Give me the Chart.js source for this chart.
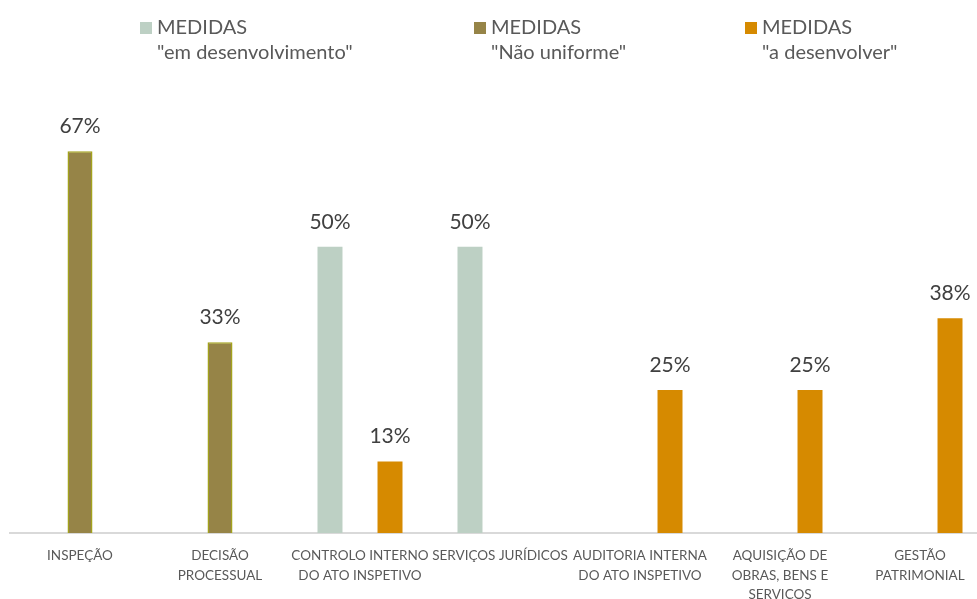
<!DOCTYPE html>
<html>
<head>
<meta charset="utf-8">
<script src="https://cdn.jsdelivr.net/npm/chart.js@4.4.1/dist/chart.umd.min.js"></script>
<style>
  html, body { margin: 0; padding: 0; background: #fff; overflow: hidden; width: 977px; height: 599px; }
  #wrap { position: absolute; left: 0; top: 0; width: 992px; height: 599px; }
  .leg { position: absolute; font-family: Lato, "Open Sans", sans-serif; font-size: 20px; color: #595959; line-height: 25px; white-space: nowrap; }
  .leg .box { position: absolute; left: -17px; top: 8px; width: 12px; height: 12px; }
</style>
</head>
<body>
<div id="wrap"><canvas id="myChart" width="992" height="599"></canvas></div>
<div id="legend"></div>
<script>
// categories (multi-line labels as in the original)
const categories = [
  ['INSPEÇÃO'],
  ['DECISÃO', 'PROCESSUAL'],
  ['CONTROLO INTERNO', 'DO ATO INSPETIVO'],
  ['SERVIÇOS JURÍDICOS'],
  ['AUDITORIA INTERNA', 'DO ATO INSPETIVO'],
  ['AQUISIÇÃO DE', 'OBRAS, BENS E', 'SERVICOS'],
  ['GESTÃO', 'PATRIMONIAL']
];
const seriesNames = [['MEDIDAS', '"em desenvolvimento"'], ['MEDIDAS', '"Não uniforme"'], ['MEDIDAS', '"a desenvolver"']];
const emDesenvolvimento = [null, null, 0.5, 0.5, null, null, null];
const naoUniforme = [0.667, 0.333, null, null, null, null, null];
const aDesenvolver = [null, null, 0.125, null, 0.25, 0.25, 0.375];
const colors = ['#bdd0c4', '#968447', '#d68a00'];
const borders = ['#bdd0c4', '#a3a21c', '#d68a00'];

// legend in html so it can have two lines
const legendX = [157, 491, 762];
const legendEl = document.getElementById('legend');
seriesNames.forEach(function (name, i) {
  const d = document.createElement('div');
  d.className = 'leg';
  d.style.left = legendX[i] + 'px';
  d.style.top = '14px';
  d.innerHTML = '<span class="box" style="background:' + colors[i] + '"></span>' + name[0] + '<br>' + name[1];
  legendEl.appendChild(d);
});

// draws the % labels over the bars
const valueLabels = {
  id: 'valueLabels',
  afterDatasetsDraw(chart) {
    const ctx = chart.ctx;
    ctx.save();
    ctx.font = '21px Lato, "Open Sans", sans-serif';
    ctx.fillStyle = '#404040';
    ctx.textAlign = 'center';
    ctx.textBaseline = 'alphabetic';
    chart.data.datasets.forEach(function (ds, i) {
      chart.getDatasetMeta(i).data.forEach(function (bar, j) {
        const v = ds.data[j];
        if (v === null) return;
        ctx.fillText(Math.round(v * 100) + '%', bar.x, bar.y - 18);
      });
    });
    ctx.restore();
  }
};

const ctx = document.getElementById('myChart').getContext('2d');
new Chart(ctx, {
  type: 'bar',
  data: {
    labels: categories,
    datasets: [
      { label: 'em desenvolvimento', data: emDesenvolvimento, backgroundColor: colors[0], borderColor: borders[0], borderWidth: 0 },
      { label: 'Não uniforme', data: naoUniforme, backgroundColor: colors[1], borderColor: borders[1], borderWidth: 1.5 },
      { label: 'a desenvolver', data: aDesenvolver, backgroundColor: colors[2], borderColor: borders[2], borderWidth: 0 }
    ]
  },
  options: {
    responsive: false,
    animation: false,
    layout: { padding: { left: 10, right: 2, top: 75, bottom: 0 } },
    plugins: {
      legend: { display: false },
      tooltip: { enabled: false }
    },
    datasets: {
      bar: { barPercentage: 0.833, categoryPercentage: 0.643 }
    },
    scales: {
      x: {
        grid: { display: false, drawTicks: false },
        border: { display: true, color: '#d9d9d9', width: 2 },
        ticks: {
          autoSkip: false,
          maxRotation: 0,
          padding: 13,
          color: '#595959',
          font: { family: 'Lato, "Open Sans", sans-serif', size: 13.5, lineHeight: 1.45 }
        },
        afterFit(scale) { scale.height = 66; }
      },
      y: {
        display: false,
        min: 0,
        max: 0.8
      }
    }
  },
  plugins: [valueLabels]
});
</script>
</body>
</html>
